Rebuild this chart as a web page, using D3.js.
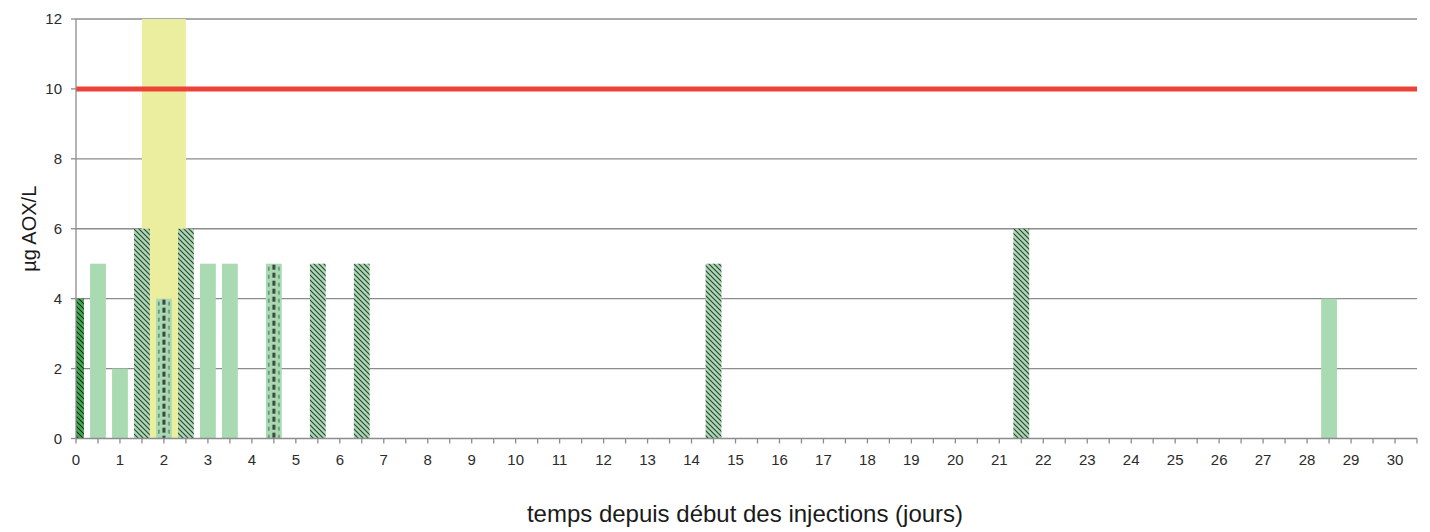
<!DOCTYPE html>
<html><head><meta charset="utf-8">
<script src="https://cdn.jsdelivr.net/npm/d3@7"></script>
<style>
html,body{margin:0;padding:0;background:#fff;}
text{font-family:"Liberation Sans",Arial,sans-serif;}
</style></head>
<body><svg id="c" width="1430" height="532"></svg>
<script>
const days = [0, 0.5, 1, 1.5, 2, 2.5, 3, 3.5, 4.5, 5.5, 6.5, 14.5, 21.5, 28.5];
const values = [4, 5, 2, 6, 4, 6, 5, 5, 5, 5, 5, 5, 6, 4];
const kinds = ["dark", "plain", "plain", "hatch", "dash", "hatch", "plain", "plain", "dash", "hatch", "hatch", "hatch", "hatch", "plain"];
const bandStart = [1.5];
const bandEnd = [2.5];
const bandValue = [12];
const threshold = [10];
const yTicks = [0, 2, 4, 6, 8, 10, 12];
const xLabels = d3.range(0, 31);
const xTickPos = d3.range(0, 30.51, 0.5);
const yTitle = "µg AOX/L";
const xTitle = "temps depuis début des injections (jours)";

const svg = d3.select("#c");
const L = 76, R = 1417, T = 19, B = 438.5;
const x = d3.scaleLinear().domain([0, 30.5]).range([L, R]);
const y = d3.scaleLinear().domain([0, 12]).range([B, T]);
const barW = x(0.36) - x(0);

const defs = svg.append("defs");
defs.append("clipPath").attr("id", "plotclip").append("rect")
  .attr("x", L).attr("y", T - 1).attr("width", R - L).attr("height", B - T + 1);

function hatch(id, bg, line) {
  const p = defs.append("pattern").attr("id", id).attr("patternUnits", "userSpaceOnUse")
    .attr("width", 5).attr("height", 5);
  p.append("rect").attr("width", 5).attr("height", 5).attr("fill", bg);
  p.append("path").attr("d", "M-1,-1 L6,6 M-1,4 L1,6 M4,-1 L6,1")
    .attr("stroke", line).attr("stroke-width", 1.15);
}
hatch("hatchLight", "#a9dab2", "#34403a");
hatch("hatchDark", "#3fae4e", "#1d2a20");

const fills = { plain: "#a9dab2", hatch: "url(#hatchLight)", dark: "url(#hatchDark)" };

// gridlines
svg.append("g").selectAll("line").data(yTicks.filter(d => d > 0)).join("line")
  .attr("x1", L).attr("x2", R).attr("y1", d => y(d)).attr("y2", d => y(d))
  .attr("stroke", "#8a8c8e").attr("stroke-width", 1.3);

const plot = svg.append("g").attr("clip-path", "url(#plotclip)");

// yellow band
plot.selectAll("rect.band").data(bandStart).join("rect").attr("class", "band")
  .attr("x", d => x(d)).attr("width", (d, i) => x(bandEnd[i]) - x(d))
  .attr("y", (d, i) => y(bandValue[i])).attr("height", (d, i) => B - y(bandValue[i]))
  .attr("fill", "#ecee9f");

// per-bar dashed patterns aligned to each dashed bar
days.forEach((d, i) => {
  if (kinds[i] !== "dash") return;
  const id = "dashP" + i;
  const p = defs.append("pattern").attr("id", id).attr("patternUnits", "userSpaceOnUse")
    .attr("width", barW).attr("height", 8).attr("x", x(d) - barW / 2).attr("y", y(values[i]));
  p.append("rect").attr("width", barW).attr("height", 8).attr("fill", "#a9dab2");
  p.append("rect").attr("x", barW / 2 - 1.5).attr("y", 1).attr("width", 3).attr("height", 5).attr("fill", "#3a463d");
  p.append("rect").attr("x", 2.2).attr("y", 3).attr("width", 1.3).attr("height", 4).attr("fill", "#5f7a66");
  p.append("rect").attr("x", barW - 3.5).attr("y", 3).attr("width", 1.3).attr("height", 4).attr("fill", "#5f7a66");
  fills["dash" + i] = `url(#${id})`;
});

plot.selectAll("rect.bar").data(days).join("rect").attr("class", "bar")
  .attr("x", d => x(d) - barW / 2).attr("width", barW)
  .attr("y", (d, i) => y(values[i])).attr("height", (d, i) => B - y(values[i]))
  .attr("fill", (d, i) => kinds[i] === "dash" ? fills["dash" + i] : fills[kinds[i]]);

// threshold
svg.append("g").selectAll("line").data(threshold).join("line")
  .attr("x1", L).attr("x2", R).attr("y1", d => y(d)).attr("y2", d => y(d))
  .attr("stroke", "#ec4237").attr("stroke-width", 5);

// y axis
const yAxis = svg.append("g");
yAxis.append("line").attr("x1", L).attr("x2", L).attr("y1", T).attr("y2", B).attr("stroke", "#8a8c8e").attr("stroke-width", 1.3);
yAxis.selectAll("line.t").data(yTicks).join("line").attr("class", "t")
  .attr("x1", L - 5).attr("x2", L).attr("y1", d => y(d)).attr("y2", d => y(d))
  .attr("stroke", "#8a8c8e").attr("stroke-width", 1.3);
yAxis.selectAll("text").data(yTicks).join("text")
  .attr("x", L - 14).attr("y", d => y(d)).attr("dy", "0.35em")
  .attr("text-anchor", "end").attr("font-size", 15).attr("fill", "#2b2b2b").text(d => d);

// x axis
const xAxis = svg.append("g");
xAxis.append("line").attr("x1", L).attr("x2", R).attr("y1", B).attr("y2", B).attr("stroke", "#8a8c8e").attr("stroke-width", 1.5);
xAxis.selectAll("line.t").data(xTickPos).join("line").attr("class", "t")
  .attr("x1", d => x(d)).attr("x2", d => x(d)).attr("y1", B).attr("y2", B + 5)
  .attr("stroke", "#8a8c8e").attr("stroke-width", 1.3);
xAxis.selectAll("text").data(xLabels).join("text")
  .attr("x", d => x(d)).attr("y", B + 21).attr("dy", "0.35em")
  .attr("text-anchor", "middle").attr("font-size", 15).attr("fill", "#2b2b2b").text(d => d);

svg.append("text").attr("transform", `translate(36,${(T + B) / 2}) rotate(-90)`)
  .attr("text-anchor", "middle").attr("font-size", 20).attr("fill", "#1a1a1a").text(yTitle);
svg.append("text").attr("x", 745).attr("y", 522)
  .attr("text-anchor", "middle").attr("font-size", 24).attr("fill", "#1a1a1a").text(xTitle);
</script></body></html>
